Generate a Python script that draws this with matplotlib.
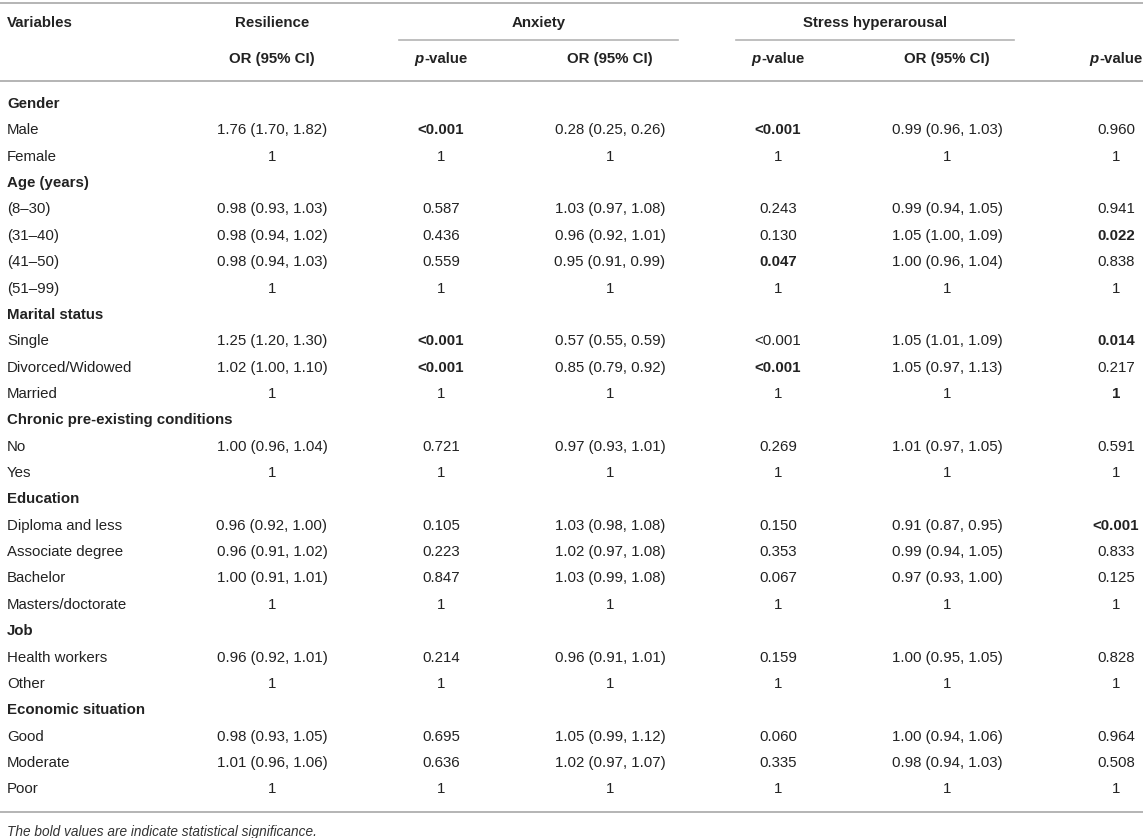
import matplotlib.pyplot as plt

plt.rcParams['font.family'] = ['Liberation Sans', 'DejaVu Sans']

# table content
groups = ["Gender", "Age (years)", "Marital status", "Chronic pre-existing conditions",
          "Education", "Job", "Economic situation"]

row_labels = ["Gender", "Male", "Female",
              "Age (years)", "(8\u201330)", "(31\u201340)", "(41\u201350)", "(51\u201399)",
              "Marital status", "Single", "Divorced/Widowed", "Married",
              "Chronic pre-existing conditions", "No", "Yes",
              "Education", "Diploma and less", "Associate degree", "Bachelor", "Masters/doctorate",
              "Job", "Health workers", "Other",
              "Economic situation", "Good", "Moderate", "Poor"]

res_or = ["", "1.76 (1.70, 1.82)", "1",
          "", "0.98 (0.93, 1.03)", "0.98 (0.94, 1.02)", "0.98 (0.94, 1.03)", "1",
          "", "1.25 (1.20, 1.30)", "1.02 (1.00, 1.10)", "1",
          "", "1.00 (0.96, 1.04)", "1",
          "", "0.96 (0.92, 1.00)", "0.96 (0.91, 1.02)", "1.00 (0.91, 1.01)", "1",
          "", "0.96 (0.92, 1.01)", "1",
          "", "0.98 (0.93, 1.05)", "1.01 (0.96, 1.06)", "1"]
res_p = ["", "<0.001", "1",
         "", "0.587", "0.436", "0.559", "1",
         "", "<0.001", "<0.001", "1",
         "", "0.721", "1",
         "", "0.105", "0.223", "0.847", "1",
         "", "0.214", "1",
         "", "0.695", "0.636", "1"]
anx_or = ["", "0.28 (0.25, 0.26)", "1",
          "", "1.03 (0.97, 1.08)", "0.96 (0.92, 1.01)", "0.95 (0.91, 0.99)", "1",
          "", "0.57 (0.55, 0.59)", "0.85 (0.79, 0.92)", "1",
          "", "0.97 (0.93, 1.01)", "1",
          "", "1.03 (0.98, 1.08)", "1.02 (0.97, 1.08)", "1.03 (0.99, 1.08)", "1",
          "", "0.96 (0.91, 1.01)", "1",
          "", "1.05 (0.99, 1.12)", "1.02 (0.97, 1.07)", "1"]
anx_p = ["", "<0.001", "1",
         "", "0.243", "0.130", "0.047", "1",
         "", "<0.001", "<0.001", "1",
         "", "0.269", "1",
         "", "0.150", "0.353", "0.067", "1",
         "", "0.159", "1",
         "", "0.060", "0.335", "1"]
str_or = ["", "0.99 (0.96, 1.03)", "1",
          "", "0.99 (0.94, 1.05)", "1.05 (1.00, 1.09)", "1.00 (0.96, 1.04)", "1",
          "", "1.05 (1.01, 1.09)", "1.05 (0.97, 1.13)", "1",
          "", "1.01 (0.97, 1.05)", "1",
          "", "0.91 (0.87, 0.95)", "0.99 (0.94, 1.05)", "0.97 (0.93, 1.00)", "1",
          "", "1.00 (0.95, 1.05)", "1",
          "", "1.00 (0.94, 1.06)", "0.98 (0.94, 1.03)", "1"]
str_p = ["", "0.960", "1",
         "", "0.941", "0.022", "0.838", "1",
         "", "0.014", "0.217", "1",
         "", "0.591", "1",
         "", "<0.001", "0.833", "0.125", "1",
         "", "0.828", "1",
         "", "0.964", "0.508", "1"]

# (row index, column index) of bold values
bold_cells = [(1, 1), (1, 3), (5, 5), (6, 3), (9, 1), (9, 5),
              (10, 1), (10, 3), (11, 5), (16, 5)]

columns = [res_or, res_p, anx_or, anx_p, str_or, str_p]
sub_headers = ["OR (95% CI)", "p-value", "OR (95% CI)", "p-value", "OR (95% CI)", "p-value"]
footnote = "The bold values are indicate statistical significance."

W, H = 1143, 838
fig = plt.figure(figsize=(W / 100, H / 100), dpi=100)
ax = fig.add_axes([0, 0, 1, 1])
ax.set_xlim(0, W)
ax.set_ylim(H, 0)
ax.axis('off')

txt = '#222222'
line_c = '#b4b4b4'
fs = 10.8
col_x = [272, 441, 610, 778, 947, 1116]
y0, dy = 104, 26.36

# rules
ax.plot([0, W], [3, 3], color=line_c, lw=1.4)
ax.plot([399, 678], [40, 40], color=line_c, lw=1.2)
ax.plot([736, 1014], [40, 40], color=line_c, lw=1.2)
ax.plot([0, W], [81, 81], color=line_c, lw=1.4)
ax.plot([0, W], [812, 812], color=line_c, lw=1.4)

# header
ax.text(7, 23, "Variables", fontsize=fs, weight='bold', color=txt, va='center')
ax.text(272, 23, "Resilience", fontsize=fs, weight='bold', color=txt, va='center', ha='center')
ax.text(539, 23, "Anxiety", fontsize=fs, weight='bold', color=txt, va='center', ha='center')
ax.text(875, 23, "Stress hyperarousal", fontsize=fs, weight='bold', color=txt, va='center', ha='center')

fig.canvas.draw()
r = fig.canvas.get_renderer()
for x, h in zip(col_x, sub_headers):
    if h.startswith("p-"):
        # italic p followed by bold "-value", centred as one string
        probe = ax.text(0, 0, h, fontsize=fs, weight='bold')
        wfull = probe.get_window_extent(r).width
        probe.remove()
        t1 = ax.text(x - wfull / 2, 59, "p", fontsize=fs, weight='bold', style='italic',
                     color=txt, va='center', ha='left')
        w1 = t1.get_window_extent(r).width
        ax.text(x - wfull / 2 + w1, 59, h[1:], fontsize=fs, weight='bold',
                color=txt, va='center', ha='left')
    else:
        ax.text(x, 59, h, fontsize=fs, weight='bold', color=txt, va='center', ha='center')

# body
for i, lab in enumerate(row_labels):
    y = y0 + i * dy
    ax.text(7, y, lab, fontsize=fs, color=txt, va='center',
            weight='bold' if lab in groups else 'normal')
    for j, col in enumerate(columns):
        if col[i]:
            ax.text(col_x[j], y, col[i], fontsize=fs, color=txt, va='center', ha='center',
                    weight='bold' if (i, j) in bold_cells else 'normal')

ax.text(7, 832, footnote, fontsize=9.8, style='italic', color='#333333', va='center')

fig.savefig("out.png", dpi=100)
